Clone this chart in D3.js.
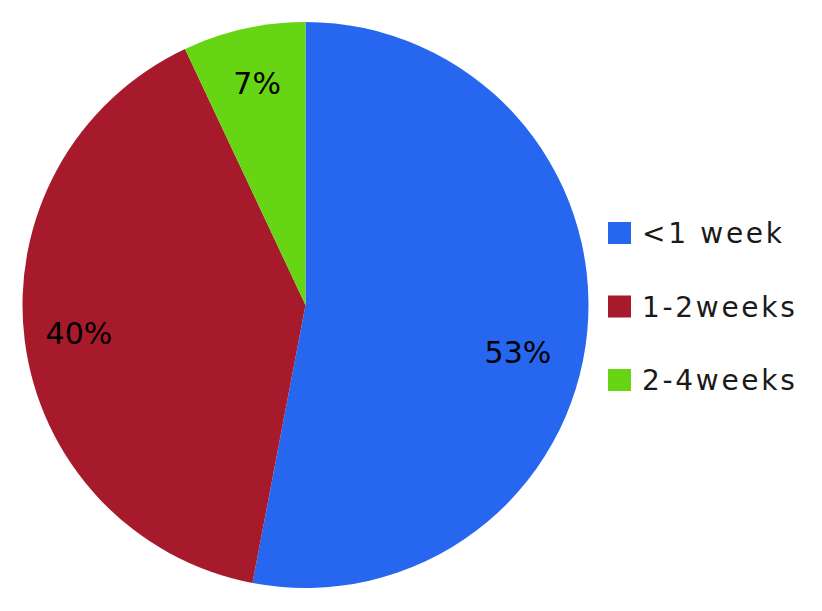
<!DOCTYPE html>
<meta charset="utf-8">
<style>
body { margin: 0; background: #fff; }
svg { display: block; }
.label { font: 30px "DejaVu Sans", sans-serif; fill: #000; }
.legend text { font: 28px "DejaVu Sans", sans-serif; fill: #1a1a1a; letter-spacing: 2.7px; }
</style>
<body>
<svg width="822" height="611"></svg>
<script src="https://d3js.org/d3.v7.min.js"></script>
<script>
// chart values
var categories = ["<1 week", "1-2weeks", "2-4weeks"];
var shares = [53, 40, 7];
var colours = ["#2767f0", "#a71a2b", "#66d614"];

var data = categories.map(function(c, i) { return {name: c, value: shares[i]}; });

var svg = d3.select("svg"),
    cx = 305.5, cy = 305, radius = 283;

var colour = d3.scaleOrdinal().domain(categories).range(colours);

var pie = d3.pie().sort(null).value(function(d) { return d.value; });
var arc = d3.arc().innerRadius(0).outerRadius(radius);
var labelArc = d3.arc().innerRadius(radius * 0.8).outerRadius(radius * 0.8);

// excel "best fit" puts the big slice label a bit lower than the centroid
var nudge = {"<1 week": [-13, 26], "1-2weeks": [-2, 0], "2-4weeks": [1, -1]};

var g = svg.append("g").attr("transform", "translate(" + cx + "," + cy + ")");

var slices = pie(data);

g.selectAll("path")
    .data(slices)
  .enter().append("path")
    .attr("d", arc)
    .attr("fill", function(d) { return colour(d.data.name); });

g.selectAll(".label")
    .data(slices)
  .enter().append("text")
    .attr("class", "label")
    .attr("transform", function(d) {
      var c = labelArc.centroid(d), n = nudge[d.data.name];
      return "translate(" + (c[0] + n[0]) + "," + (c[1] + n[1]) + ")";
    })
    .attr("text-anchor", "middle")
    .attr("dy", "0.36em")
    .text(function(d) { return d.data.value + "%"; });

var legend = svg.append("g")
    .attr("class", "legend")
    .attr("transform", "translate(608,233)");

var ly = d3.scalePoint().domain(categories).range([0, 147]);

var item = legend.selectAll("g")
    .data(categories)
  .enter().append("g")
    .attr("transform", function(d) { return "translate(0," + ly(d) + ")"; });

item.append("rect")
    .attr("x", 0)
    .attr("y", -11)
    .attr("width", 23)
    .attr("height", 22)
    .attr("fill", function(d) { return colour(d); });

item.append("text")
    .attr("x", 34)
    .attr("dy", "0.36em")
    .text(function(d) { return d; });
</script>
</body>
